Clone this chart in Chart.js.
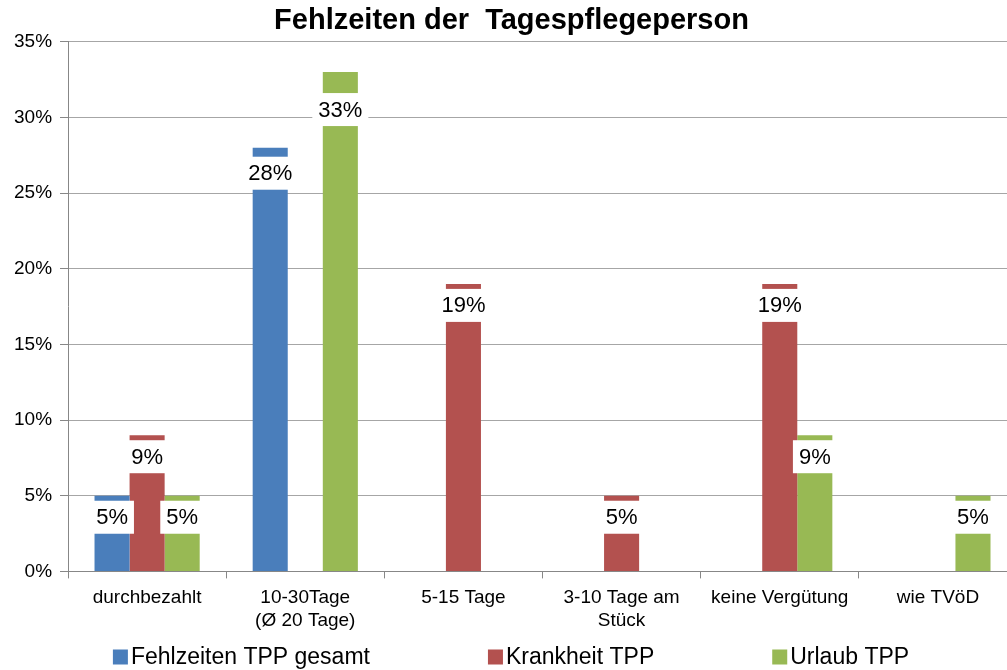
<!DOCTYPE html>
<html>
<head>
<meta charset="utf-8">
<script src="https://cdn.jsdelivr.net/npm/chart.js@4"></script>
<style>
  html, body { margin: 0; padding: 0; background: #fff; overflow: hidden; }
</style>
</head>
<body>
<canvas id="chart" width="1022" height="670"></canvas>
<script>
// Kategorien und Werte (in Prozent)
var kategorien = ['durchbezahlt', ['10-30Tage', '(Ø 20 Tage)'], '5-15 Tage', ['3-10 Tage am', 'Stück'], 'keine Vergütung', 'wie TVöD'];
var gesamt = [5, 28, 0, 0, 0, 0];
var krankheit = [9, 0, 19, 5, 19, 0];
var urlaub = [5, 33, 0, 0, 9, 5];
var serienNamen = ['Fehlzeiten TPP gesamt', 'Krankheit TPP', 'Urlaub TPP'];
var farben = ['#4A7EBB', '#B3514F', '#98B954'];

var schrift = 'Arial, "Liberation Sans", sans-serif';

// Abstand Balkenoberkante -> Beschriftungskasten (px), einzelne Labels wurden im Original verschoben
var labelAbstand = { '0-1': 9, '2-1': 21 };

// Werte-Beschriftungen mit weißem Kasten
var wertePlugin = {
    id: 'werte',
    afterDatasetsDraw: function (chart) {
        var ctx = chart.ctx;
        ctx.save();
        ctx.font = '22px ' + schrift;
        ctx.textAlign = 'center';
        ctx.textBaseline = 'middle';
        chart.data.datasets.forEach(function (ds, i) {
            var meta = chart.getDatasetMeta(i);
            meta.data.forEach(function (bar, j) {
                var v = ds.data[j];
                if (!v) return;
                var txt = Math.round(v) + '%';
                var w = ctx.measureText(txt).width + 12;
                var h = 33;
                var top = bar.y + (labelAbstand[i + '-' + j] || 5);
                ctx.fillStyle = '#fff';
                ctx.fillRect(bar.x - w / 2, top, w, h);
                ctx.fillStyle = '#000';
                ctx.fillText(txt, bar.x, top + h / 2 + 1);
            });
        });
        ctx.restore();
    }
};

// Legende unten
var legendePlugin = {
    id: 'legende',
    afterDraw: function (chart) {
        var ctx = chart.ctx;
        ctx.save();
        ctx.font = '23px ' + schrift;
        ctx.textBaseline = 'middle';
        var box = 15, luecke = 3, abstand = 118;
        var breiten = serienNamen.map(function (n) { return box + luecke + ctx.measureText(n).width; });
        var gesamtBreite = breiten.reduce(function (a, b) { return a + b; }, 0) + abstand * (serienNamen.length - 1);
        var x = (chart.width - gesamtBreite) / 2;
        var y = 657;
        serienNamen.forEach(function (n, i) {
            ctx.fillStyle = farben[i];
            ctx.fillRect(x, y - box / 2, box, box);
            ctx.fillStyle = '#000';
            ctx.fillText(n, x + box + luecke, y + 1);
            x += breiten[i] + abstand;
        });
        ctx.restore();
    }
};

var daten = {
    labels: kategorien,
    datasets: [
        { label: serienNamen[0], data: gesamt, backgroundColor: farben[0] },
        { label: serienNamen[1], data: krankheit, backgroundColor: farben[1] },
        { label: serienNamen[2], data: urlaub, backgroundColor: farben[2] }
    ]
};

var optionen = {
    responsive: false,
    animation: false,
    layout: { padding: { left: 6, right: 5, top: 0, bottom: 30 } },
    datasets: {
        bar: { categoryPercentage: 0.665, barPercentage: 1.0 }
    },
    plugins: {
        legend: { display: false },
        tooltip: { enabled: false },
        title: {
            display: true,
            text: 'Fehlzeiten der  Tagespflegeperson',
            color: '#000',
            font: { family: schrift, size: 29, weight: 'bold' },
            padding: { top: 4, bottom: 3 }
        }
    },
    scales: {
        x: {
            grid: { drawOnChartArea: false, drawTicks: true, tickLength: 7, color: '#878787' },
            border: { color: '#878787', width: 1 },
            ticks: { color: '#000', font: { family: schrift, size: 19 }, padding: 8, maxRotation: 0, autoSkip: false }
        },
        y: {
            min: 0,
            max: 35,
            grid: { color: '#A6A6A6', tickLength: 8, tickColor: '#878787' },
            border: { color: '#878787', width: 1 },
            ticks: {
                stepSize: 5,
                color: '#000',
                padding: 8,
                font: { family: schrift, size: 19 },
                callback: function (v) { return v + '%'; }
            }
        }
    }
};

var grafik = new Chart(document.getElementById('chart'), {
    type: 'bar',
    data: daten,
    options: optionen,
    plugins: [wertePlugin, legendePlugin]
});
</script>
</body>
</html>
